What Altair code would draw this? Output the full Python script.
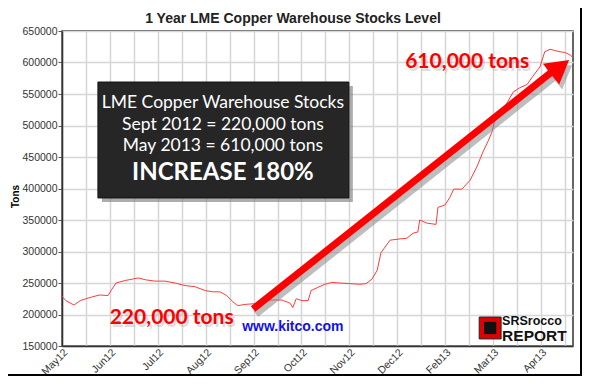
import json
import altair as alt
import pandas as pd

# ---- data ----
months = [0.00, 0.08, 0.25, 0.38, 0.50, 0.63, 0.79, 0.96, 1.04, 1.13, 1.32, 1.46, 1.59,
          1.75, 1.94, 2.15, 2.36, 2.57, 2.78, 2.99, 3.15, 3.30, 3.44, 3.57, 3.67, 3.82,
          3.99, 4.18, 4.34, 4.59, 4.76, 4.82, 4.89, 5.01, 5.14, 5.20, 5.34, 5.49, 5.64,
          5.80, 6.01, 6.22, 6.35, 6.47, 6.58, 6.66, 6.85, 7.06, 7.20, 7.33, 7.43, 7.47,
          7.62, 7.81, 7.85, 8.00, 8.10, 8.18, 8.35, 8.52, 8.66, 8.79, 8.89, 8.98, 9.04,
          9.14, 9.25, 9.42, 9.56, 9.71, 9.83, 9.98, 10.08, 10.19, 10.29, 10.40, 10.50,
          10.61, 10.67]
tons = [229000, 222000, 215000, 222000, 225000, 228000, 231000, 230000, 240000, 250000,
        254000, 256000, 258000, 255000, 253000, 253000, 250000, 246000, 244000, 238000,
        236000, 236000, 230000, 220000, 214000, 216000, 217000, 218000, 223000, 223000,
        218000, 211000, 225000, 222000, 222000, 238000, 243000, 248000, 251000, 250000,
        249000, 248000, 249000, 256000, 270000, 298000, 318000, 320000, 321000, 329000,
        331000, 350000, 345000, 343000, 370000, 374000, 386000, 399000, 399000, 413000,
        434000, 458000, 474000, 490000, 510000, 522000, 530000, 553000, 560000, 565000,
        578000, 593000, 617000, 621000, 619000, 617000, 616000, 612000, 608000]
tick_labels = ["May12", "Jun12", "Jul12", "Aug12", "Sep12", "Oct12", "Nov12",
               "Dec12", "Feb13", "Mar13", "Apr13"]
y_ticks = [150000, 200000, 250000, 300000, 350000, 400000, 450000, 500000,
           550000, 600000, 650000]

title_text = "1 Year LME Copper Warehouse Stocks Level"
box_lines = ["LME Copper Warehouse Stocks", "Sept 2012 = 220,000 tons",
             "May 2013 = 610,000 tons"]
box_head = "INCREASE 180%"

XMAX = 10.67
xs = alt.Scale(domain=[0, XMAX], nice=False, zero=False)
ys = alt.Scale(domain=[150000, 650000], nice=False, zero=False)

label_expr = ("datum.value % 1 == 0 ? " + json.dumps(tick_labels) +
              "[datum.value] : ''")

x_axis = alt.Axis(values=[i * 0.5 for i in range(22)], labelExpr=label_expr,
                  labelAngle=-45, labelAlign="right", labelBaseline="top",
                  labelFontSize=10.5, labelFont="Liberation Sans",
                  labelColor="#333", labelPadding=1, tickSize=0, title=None,
                  grid=True, gridColor="#d6d6d6", gridWidth=1.5,
                  domainColor="#333", domainWidth=1.5, labelOverlap=False,
                  labelBound=False, labelFlush=False)
y_axis = alt.Axis(values=y_ticks, format="d",
                  labelFontSize=10.5, labelFont="Liberation Sans",
                  labelColor="#333", labelOverlap=False, labelFlush=False,
                  labelBound=False,
                  tickSize=4, tickColor="#555", labelPadding=1, grid=True,
                  gridColor="#d6d6d6", gridWidth=1.5, domainColor="#333",
                  domainWidth=1.5, title="Tons", titleFontSize=10,
                  titleFont="Liberation Sans", titleFontWeight="bold",
                  titleX=-47, titleY=165, titleAngle=-90, titleAlign="center",
                  titleBaseline="middle")


def X(f):
    return alt.X(f, scale=xs, axis=x_axis)


def Y(f):
    return alt.Y(f, scale=ys, axis=y_axis)


df = pd.DataFrame({"m": months, "t": tons})

line = alt.Chart(df).mark_line(color="#ff3b3b", strokeWidth=1, clip=True).encode(
    x=X("m:Q"), y=Y("t:Q"))

# chart title as text
title = alt.Chart(pd.DataFrame({"txt": [title_text]})).mark_text(
    font="Liberation Sans", fontSize=14, fontWeight="bold", color="#222",
    baseline="alphabetic", align="center").encode(
    x=alt.value(231), y=alt.value(-8), text="txt:N")

# annotation tables
box_df = pd.DataFrame({"x1": [0.75], "x2": [5.99], "y1": [385000], "y2": [569000]})
box_shadow = alt.Chart(box_df).mark_rect(color="#777", opacity=0.6, xOffset=4,
                                         yOffset=4, x2Offset=4, y2Offset=4).encode(
    x=X("x1:Q"), x2="x2:Q", y=Y("y1:Q"), y2="y2:Q")
box = alt.Chart(box_df).mark_rect(color="#262626", stroke="#111", strokeWidth=1).encode(
    x=X("x1:Q"), x2="x2:Q", y=Y("y1:Q"), y2="y2:Q")

box_txt_df = pd.DataFrame({"x": [3.36, 3.36, 3.36], "y": [535600, 500700, 467400],
                           "txt": box_lines})
box_txt = alt.Chart(box_txt_df).mark_text(color="white", font="Lato", fontSize=17.5,
                                          baseline="middle", align="center").encode(
    x=X("x:Q"), y=Y("y:Q"), text="txt:N")
head_df = pd.DataFrame({"x": [3.36], "y": [424600], "txt": [box_head]})
head_txt = alt.Chart(head_df).mark_text(color="white", font="Lato", fontSize=24,
                                        fontWeight="bold", baseline="middle",
                                        align="center").encode(
    x=X("x:Q"), y=Y("y:Q"), text="txt:N")

# arrow
arr_df = pd.DataFrame({"x1": [3.99], "y1": [208700], "x2": [10.25], "y2": [586400]})
arr_shadow = alt.Chart(arr_df).mark_rule(color="#888", opacity=0.55, strokeWidth=7,
                                         xOffset=3, yOffset=5, x2Offset=3,
                                         y2Offset=5).encode(
    x=X("x1:Q"), y=Y("y1:Q"), x2="x2:Q", y2="y2:Q")
arr = alt.Chart(arr_df).mark_rule(color="#ff0000", strokeWidth=7).encode(
    x=X("x1:Q"), y=Y("y1:Q"), x2="x2:Q", y2="y2:Q")
head_pt = pd.DataFrame({"x": [10.40], "y": [592700]})
arr_head_sh = alt.Chart(head_pt).mark_point(shape="triangle-up", filled=True,
                                            color="#888", opacity=0.55, size=700,
                                            angle=52, xOffset=3, yOffset=5).encode(
    x=X("x:Q"), y=Y("y:Q"))
arr_head = alt.Chart(head_pt).mark_point(shape="triangle-up", filled=True, opacity=1,
                                         color="#ff0000", size=700, angle=52).encode(
    x=X("x:Q"), y=Y("y:Q"))

# red labels with soft shadow
red_df = pd.DataFrame({"x": [8.46, 2.29], "y": [600700, 194400],
                       "txt": ["610,000 tons", "220,000 tons"]})
red_sh = alt.Chart(red_df).mark_text(color="#999", opacity=0.3, font="Lato",
                                     fontSize=21, fontWeight="bold", dx=2, dy=3,
                                     baseline="middle").encode(
    x=X("x:Q"), y=Y("y:Q"), text="txt:N")
red_txt = alt.Chart(red_df).mark_text(color="#ff0000", font="Lato", fontSize=21,
                                      fontWeight="bold", baseline="middle").encode(
    x=X("x:Q"), y=Y("y:Q"), text="txt:N")

kitco_df = pd.DataFrame({"x": [4.82], "y": [180200], "txt": ["www.kitco.com"]})
kitco = alt.Chart(kitco_df).mark_text(color="#1212e8", font="Liberation Sans",
                                      fontSize=14, fontWeight="bold",
                                      baseline="middle").encode(
    x=X("x:Q"), y=Y("y:Q"), text="txt:N")

# logo
logo_sq = alt.Chart(pd.DataFrame({"x": [8.94], "y": [178600]})).mark_square(
    color="#e00000", size=480, opacity=1, stroke="#222", strokeWidth=1).encode(
    x=X("x:Q"), y=Y("y:Q"))
logo_in = alt.Chart(pd.DataFrame({"x": [8.94], "y": [178600]})).mark_square(
    color="#111", size=150, opacity=1).encode(
    x=X("x:Q"), y=Y("y:Q"))
logo_df = pd.DataFrame({"x": [9.19, 9.19], "y": [189000, 166500],
                        "txt": ["SRSrocco", "REPORT"], "fs": [12.5, 15.5]})
logo_txt = alt.Chart(logo_df).mark_text(color="#111", font="Liberation Sans",
                                        fontWeight="bold", align="left",
                                        baseline="middle").encode(
    x=X("x:Q"), y=Y("y:Q"), text="txt:N",
    size=alt.Size("fs:Q", scale=None, legend=None))

# outer image frame (right and bottom), as close to the edge as the page allows
frame_r = alt.Chart(pd.DataFrame({"a": [0]})).mark_rule(color="#000", strokeWidth=2).encode(
    x=alt.value(519), y=alt.value(-23), y2=alt.value(345))
frame_b = alt.Chart(pd.DataFrame({"a": [0]})).mark_rule(color="#000", strokeWidth=2).encode(
    x=alt.value(-54), x2=alt.value(520), y=alt.value(344))

chart = alt.layer(
    line, title, box_shadow, box, box_txt, head_txt, arr_shadow, arr_head_sh, arr,
    arr_head, red_sh, red_txt, kitco, logo_sq, logo_in, logo_txt, frame_r, frame_b
).properties(
    width=511, height=315,
    autosize=alt.AutoSizeParams(type="none"),
    padding={"left": 54, "top": 23, "right": 9, "bottom": 30},
    background="white",
).configure_view(stroke="#333", strokeWidth=1.5)

chart.save("out.html", embed_options={"renderer": "svg", "actions": False})
